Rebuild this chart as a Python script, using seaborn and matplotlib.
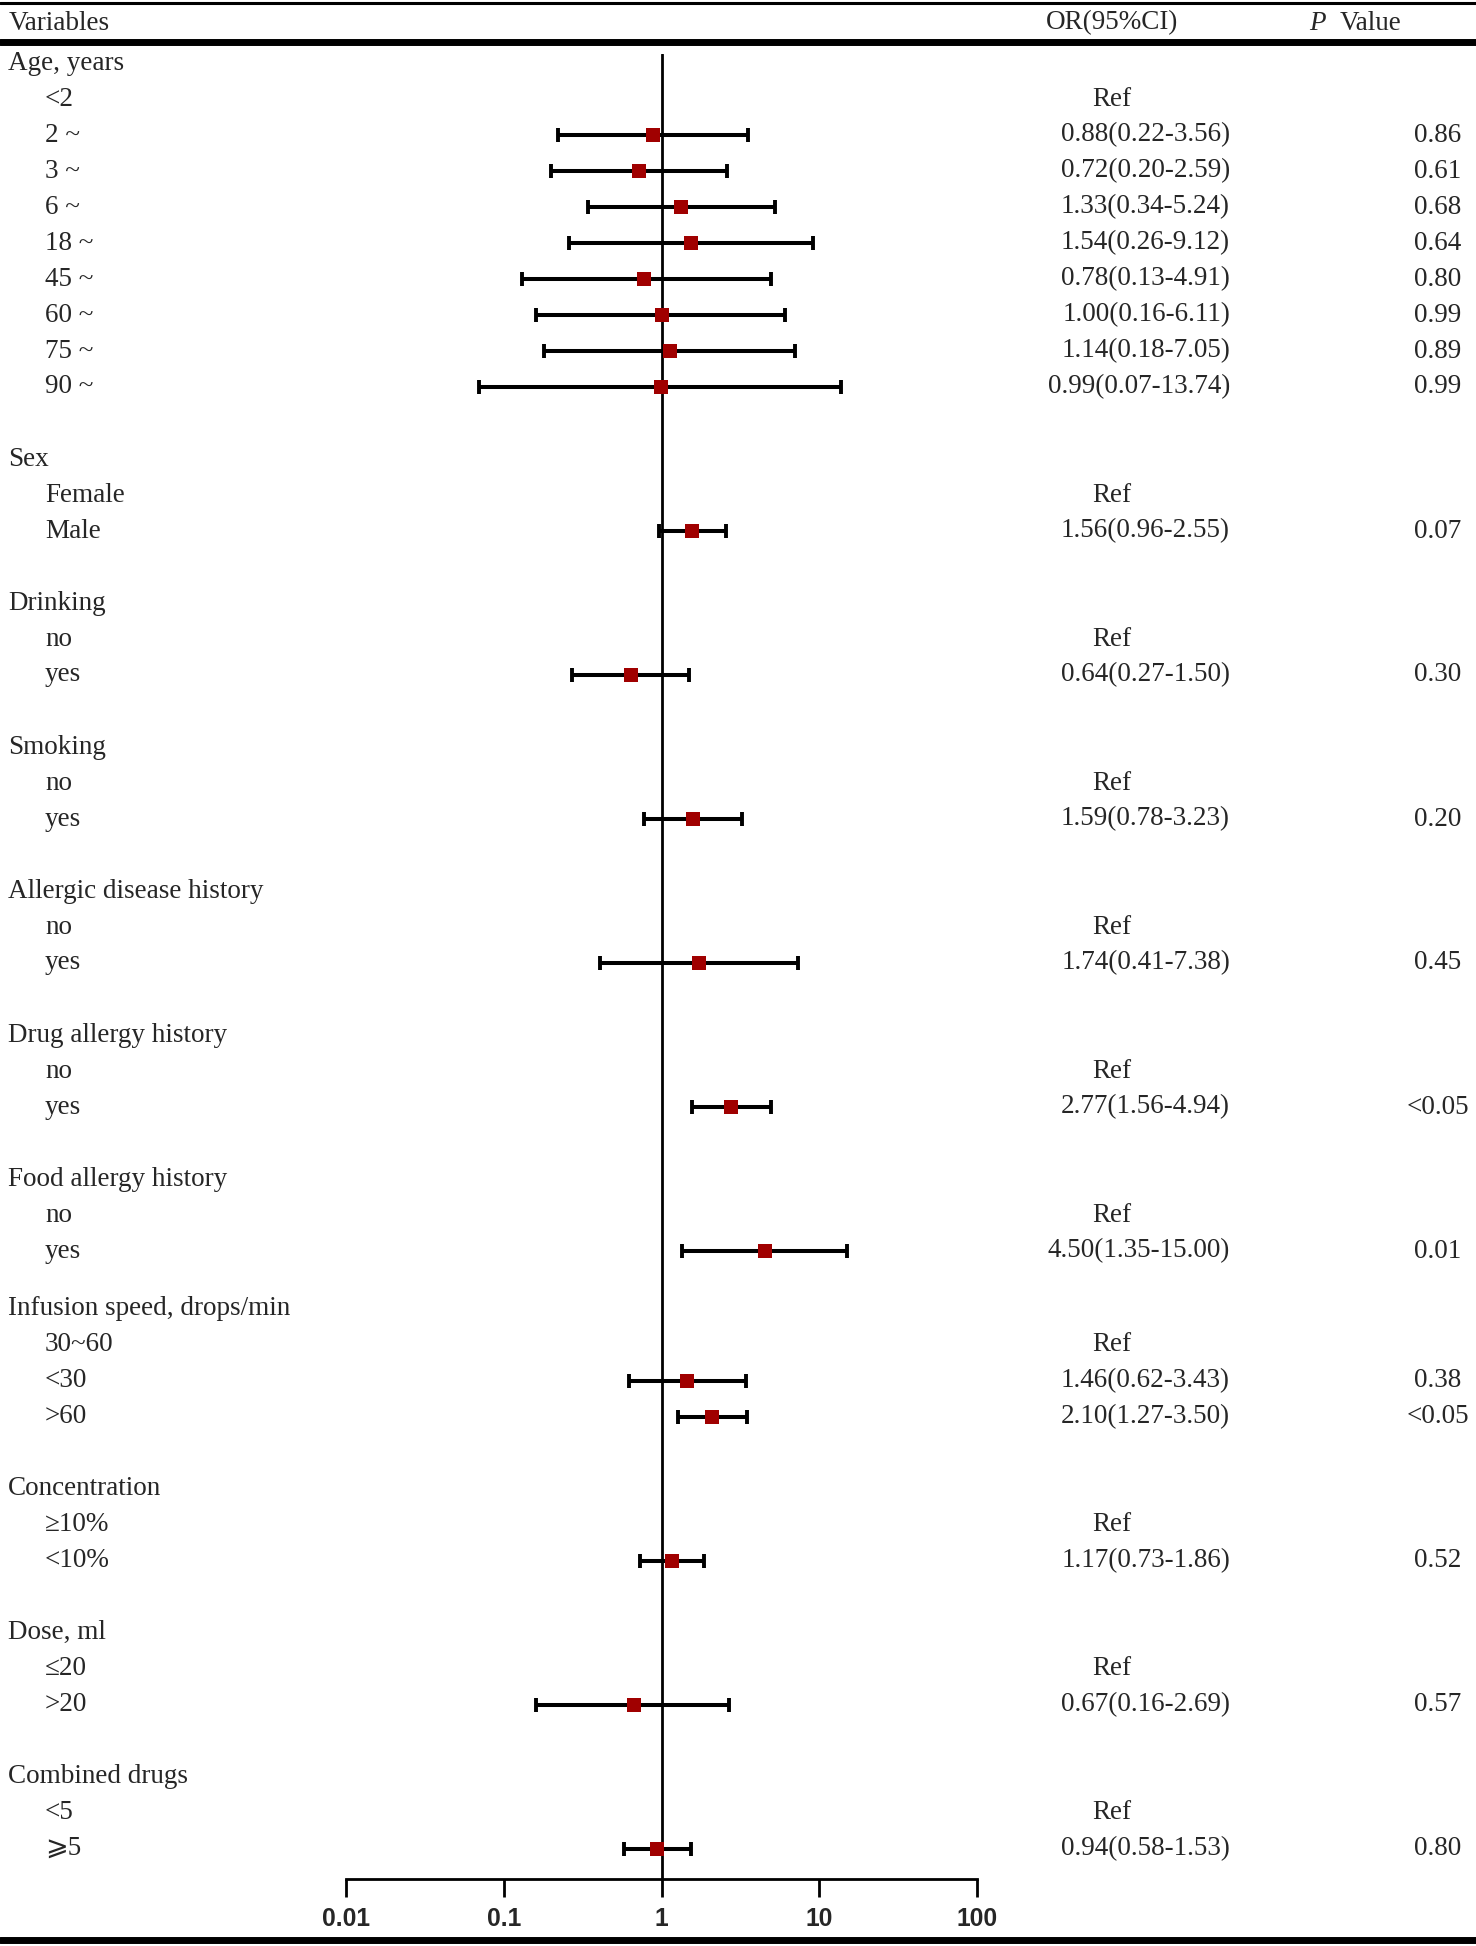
import numpy as np
import pandas as pd
import matplotlib.pyplot as plt
import seaborn as sns

#%% data read off the table
groups = ["Age, years", "Sex", "Drinking", "Smoking", "Allergic disease history",
          "Drug allergy history", "Food allergy history", "Infusion speed, drops/min",
          "Concentration", "Dose, ml", "Combined drugs"]
levels = [
    ["<2", "2 ~", "3 ~", "6 ~", "18 ~", "45 ~", "60 ~", "75 ~", "90 ~"],
    ["Female", "Male"],
    ["no", "yes"],
    ["no", "yes"],
    ["no", "yes"],
    ["no", "yes"],
    ["no", "yes"],
    ["30~60", "<30", ">60"],
    ["≥10%", "<10%"],
    ["≤20", ">20"],
    ["<5", "⩾5"],
]
# first level of each group is the reference, the rest follow in order
odds = [0.88, 0.72, 1.33, 1.54, 0.78, 1.00, 1.14, 0.99, 1.56, 0.64, 1.59, 1.74,
        2.77, 4.50, 1.46, 2.10, 1.17, 0.67, 0.94]
ci_low = [0.22, 0.20, 0.34, 0.26, 0.13, 0.16, 0.18, 0.07, 0.96, 0.27, 0.78, 0.41,
          1.56, 1.35, 0.62, 1.27, 0.73, 0.16, 0.58]
ci_high = [3.56, 2.59, 5.24, 9.12, 4.91, 6.11, 7.05, 13.74, 2.55, 1.50, 3.23, 7.38,
           4.94, 15.00, 3.43, 3.50, 1.86, 2.69, 1.53]
p_text = ["0.86", "0.61", "0.68", "0.64", "0.80", "0.99", "0.89", "0.99", "0.07",
          "0.30", "0.20", "0.45", "<0.05", "0.01", "0.38", "<0.05", "0.52", "0.57", "0.80"]
x_ticks = [0.01, 0.1, 1, 10, 100]
x_ticklabels = ["0.01", "0.1", "1", "10", "100"]

#%% layout (pixels of the 1476x1946 canvas)
W, H = 1476, 1946
ROW0, ROWH = 63, 36.0             # first row centre, row height
gaps = [0, 1, 1, 1, 1, 1, 1, 0.6, 1, 1, 1]   # blank rows before each group

def fx(px):
    return px / W

def fy(px):
    return 1 - px / H

def ypx(r):
    return ROW0 + ROWH * r

def row_at(px):
    return (px - ROW0) / ROWH

heads, refs, items = [], [], []
r = 0
for g, lv, gap in zip(groups, levels, gaps):
    r += gap
    heads.append((r, g))
    r += 1
    for j, name in enumerate(lv):
        if j == 0:
            refs.append((r, name))
        else:
            items.append((r, name))
        r += 1

df = pd.DataFrame({"row": [i[0] for i in items], "label": [i[1] for i in items],
                   "or": odds, "lo": ci_low, "hi": ci_high, "p": p_text})

#%% figure
sns.set_theme(style="white")
plt.rcParams['font.family'] = ['Liberation Serif', 'DejaVu Serif', 'DejaVu Sans']
FS = 19.5

fig = plt.figure(figsize=(W / 100, H / 100), dpi=100)

# forest panel
ax = fig.add_axes([fx(346), fy(1879), fx(977) - fx(346), (1879 - 54) / H])
ax.set_xscale('log')
ax.axvline(1, color='black', lw=2, zorder=1)
ax.errorbar(df["or"], df["row"], xerr=[df["or"] - df["lo"], df["hi"] - df["or"]],
            fmt='none', ecolor='black', elinewidth=2.9, capsize=5, capthick=2.8, zorder=2)
sns.scatterplot(data=df, x="or", y="row", marker="s", s=115, color="#a00000",
                linewidth=0, ax=ax, zorder=3, legend=False)
ax.set_xlim(0.01, 100)
ax.set_ylim(row_at(1879), row_at(54))
ax.set_xlabel("")
ax.set_ylabel("")
ax.set_yticks([])
ax.set_xticks(x_ticks)
ax.minorticks_off()
ax.set_xticklabels(x_ticklabels, fontweight='bold', family='Liberation Sans', fontsize=17.7)
ax.tick_params(axis='x', which='major', bottom=True, direction='out', length=13,
               width=2, pad=7, color='black')
for s in ['left', 'top', 'right']:
    ax.spines[s].set_visible(False)
ax.spines['bottom'].set_linewidth(2)
ax.spines['bottom'].set_color('black')
ax.patch.set_alpha(0)

# table rules
for y, lw in [(3, 2.2), (42, 5), (1940, 5)]:
    fig.add_artist(plt.Line2D([0, 1], [fy(y), fy(y)], color='black', lw=lw))

# header
fig.text(fx(9), fy(23), "Variables", fontsize=FS, va='center', ha='left')
fig.text(fx(1112), fy(23), "OR(95%CI)", fontsize=FS, va='center', ha='center')
fig.text(fx(1309), fy(23), "P", fontsize=FS, va='center', ha='left', style='italic')
fig.text(fx(1340), fy(23), "Value", fontsize=FS, va='center', ha='left')

# rows
for rr, g in heads:
    fig.text(fx(8), fy(ypx(rr)), g, fontsize=FS, va='center', ha='left')
for rr, name in refs:
    fig.text(fx(45), fy(ypx(rr)), name, fontsize=FS, va='center', ha='left')
    fig.text(fx(1112), fy(ypx(rr)), "Ref", fontsize=FS, va='center', ha='center')
for _, d in df.iterrows():
    y = fy(ypx(d["row"]))
    fig.text(fx(45), y, d["label"], fontsize=FS, va='center', ha='left')
    fig.text(fx(1230), y, f"{d['or']:.2f}({d['lo']:.2f}-{d['hi']:.2f})",
             fontsize=FS, va='center', ha='right')
    fig.text(fx(1438), y, d["p"], fontsize=FS, va='center', ha='center')

fig.savefig("out.png", dpi=100)
